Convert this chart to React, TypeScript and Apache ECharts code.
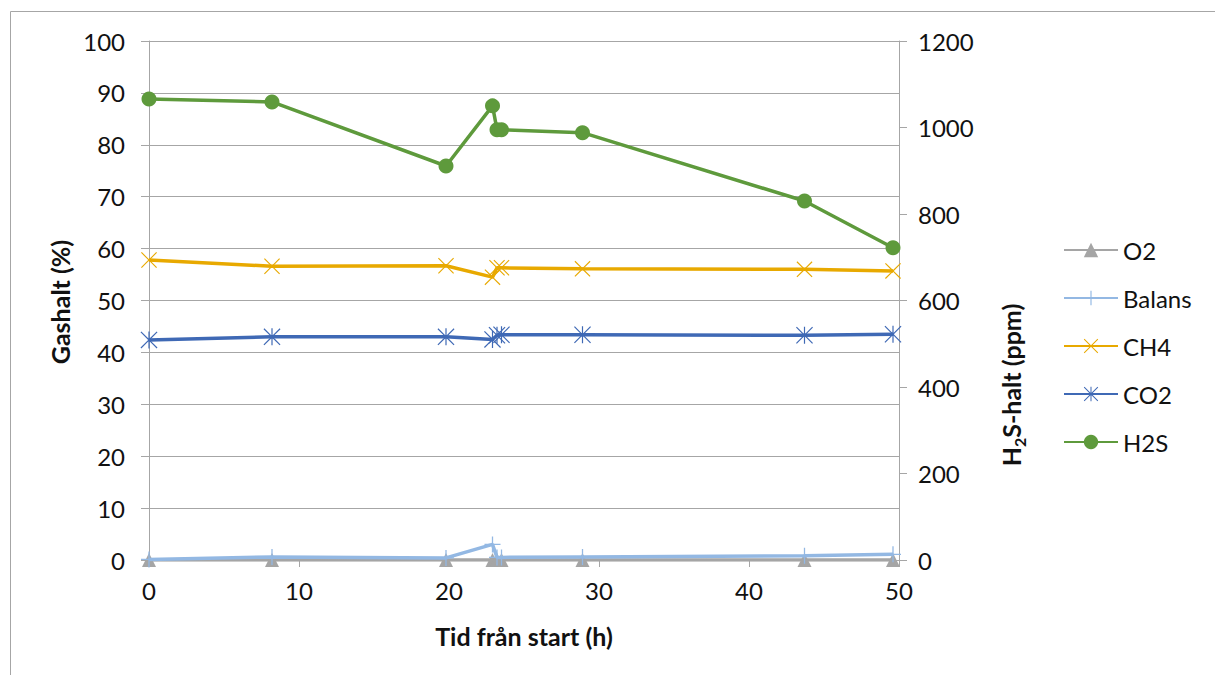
import React, { useEffect, useRef } from "react";
import * as echarts from "echarts";

const hours = [0, 8.2, 19.8, 22.9, 23.2, 23.5, 28.9, 43.7, 49.6];
const o2 = [0, 0, 0, 0, 0, 0, 0, 0, 0];
const balans = [0.1, 0.6, 0.4, 3.0, 0.5, 0.5, 0.6, 0.8, 1.1];
const ch4 = [57.8, 56.6, 56.7, 54.5, 56.3, 56.3, 56.1, 56.0, 55.7];
const co2 = [42.4, 43.0, 43.0, 42.5, 43.3, 43.4, 43.4, 43.3, 43.5];
const h2s = [1066, 1059, 911, 1050, 995, 995, 988, 830, 722];

const seriesNames = ["O2", "Balans", "CH4", "CO2", "H2S"];
const seriesColors = ["#a5a5a5", "#93b8e3", "#e8a900", "#3f69b5", "#5e9a3c"];

const FONT = "Lato";
const PLUS = "path://M9.2,0H10.8V20H9.2Z M0,9.2H20V10.8H0Z";
const CROSS = "path://M1,0L10,9L19,0L20,1L11,10L20,19L19,20L10,11L1,20L0,19L9,10L0,1Z";
const STAR = "path://M1,0L10,9L19,0L20,1L11,10L20,19L19,20L10,11L1,20L0,19L9,10L0,1Z M9.3,0H10.7V20H9.3Z";

const pair = (vals: number[]) => hours.map((h, i) => [h, vals[i]]);

export default function App() {
  const ref = useRef<HTMLDivElement>(null);
  useEffect(() => {
    if (!ref.current) return;
    const chart = echarts.init(ref.current, null, { renderer: "svg" });
    const datasets = [o2, balans, ch4, co2, h2s];
    const symbols = ["triangle", PLUS, CROSS, STAR, "circle"];
    const sizes = [14, 16, 16, 17, 15];
    chart.setOption({
      animation: false,
      textStyle: { fontFamily: FONT },
      grid: { left: 149, top: 41, width: 750, height: 519 },
      xAxis: {
        type: "value",
        min: 0,
        max: 50,
        interval: 10,
        axisLine: { show: true, lineStyle: { color: "#a6a6a6", width: 1 } },
        axisTick: { show: true, length: 7, lineStyle: { color: "#a6a6a6" } },
        splitLine: { show: false },
        axisLabel: { color: "#111", fontSize: 24, fontFamily: FONT, margin: 18 },
      },
      yAxis: [
        {
          type: "value",
          min: 0,
          max: 100,
          interval: 10,
          axisLine: { show: true, lineStyle: { color: "#a6a6a6", width: 1 } },
          axisTick: { show: true, length: 8, lineStyle: { color: "#a6a6a6" } },
          splitLine: { show: true, lineStyle: { color: "#a6a6a6", width: 1 } },
          axisLabel: { color: "#111", fontSize: 24, fontFamily: FONT, margin: 24 },
        },
        {
          type: "value",
          min: 0,
          max: 1200,
          interval: 200,
          position: "right",
          axisLine: { show: true, lineStyle: { color: "#a6a6a6", width: 1 } },
          axisTick: { show: true, length: 8, lineStyle: { color: "#a6a6a6" } },
          splitLine: { show: false },
          axisLabel: {
            color: "#111",
            fontSize: 24,
            fontFamily: FONT,
            margin: 19,
            formatter: (v: number) => String(v),
          },
        },
      ],
      legend: {
        orient: "vertical",
        left: 1063,
        top: 238,
        padding: 0,
        itemWidth: 54,
        itemHeight: 18,
        itemGap: 24,
        textStyle: { color: "#111", fontSize: 24, fontFamily: FONT },
        data: seriesNames,
      },
      graphic: [
        {
          type: "rect",
          shape: { x: 10.5, y: 11.5, width: 1300, height: 800 },
          style: { fill: "none", stroke: "#a6a6a6", lineWidth: 1 },
          silent: true,
          z: -10,
        },
        {
          type: "text",
          x: 60,
          y: 302,
          rotation: Math.PI / 2,
          style: {
            text: "Gashalt (%)",
            fontSize: 25,
            fontWeight: "bold",
            fontFamily: FONT,
            fill: "#111",
            align: "center",
            verticalAlign: "middle",
          },
        },
        {
          type: "text",
          x: 1011,
          y: 385,
          rotation: Math.PI / 2,
          style: {
            text: "{a|H}{s|2}{a|S-halt (ppm)}",
            align: "center",
            verticalAlign: "middle",
            rich: {
              a: { fontSize: 25, fontWeight: "bold", fontFamily: FONT, fill: "#111", lineHeight: 32 },
              s: {
                fontSize: 16,
                fontWeight: "bold",
                fontFamily: FONT,
                fill: "#111",
                lineHeight: 32,
                verticalAlign: "bottom",
                padding: [11, 0, 0, 0],
              },
            },
          },
        },
        {
          type: "text",
          x: 524,
          y: 636,
          style: {
            text: "Tid från start (h)",
            fontSize: 25,
            fontWeight: "bold",
            fontFamily: FONT,
            fill: "#111",
            align: "center",
            verticalAlign: "middle",
          },
        },
      ],
      series: seriesNames.map((name, i) => ({
        name,
        type: "line",
        yAxisIndex: i === 4 ? 1 : 0,
        data: pair(datasets[i]),
        symbol: symbols[i],
        symbolSize: sizes[i],
        showSymbol: true,
        lineStyle: { color: seriesColors[i], width: 3.5 },
        itemStyle: { color: seriesColors[i] },
        emphasis: { disabled: true },
        z: 2 + i,
      })),
    });
    return () => chart.dispose();
  }, []);
  return (
    <div
      ref={ref}
      style={{ position: "absolute", left: 0, top: 0, width: 1215, height: 675, background: "#fff" }}
    />
  );
}
